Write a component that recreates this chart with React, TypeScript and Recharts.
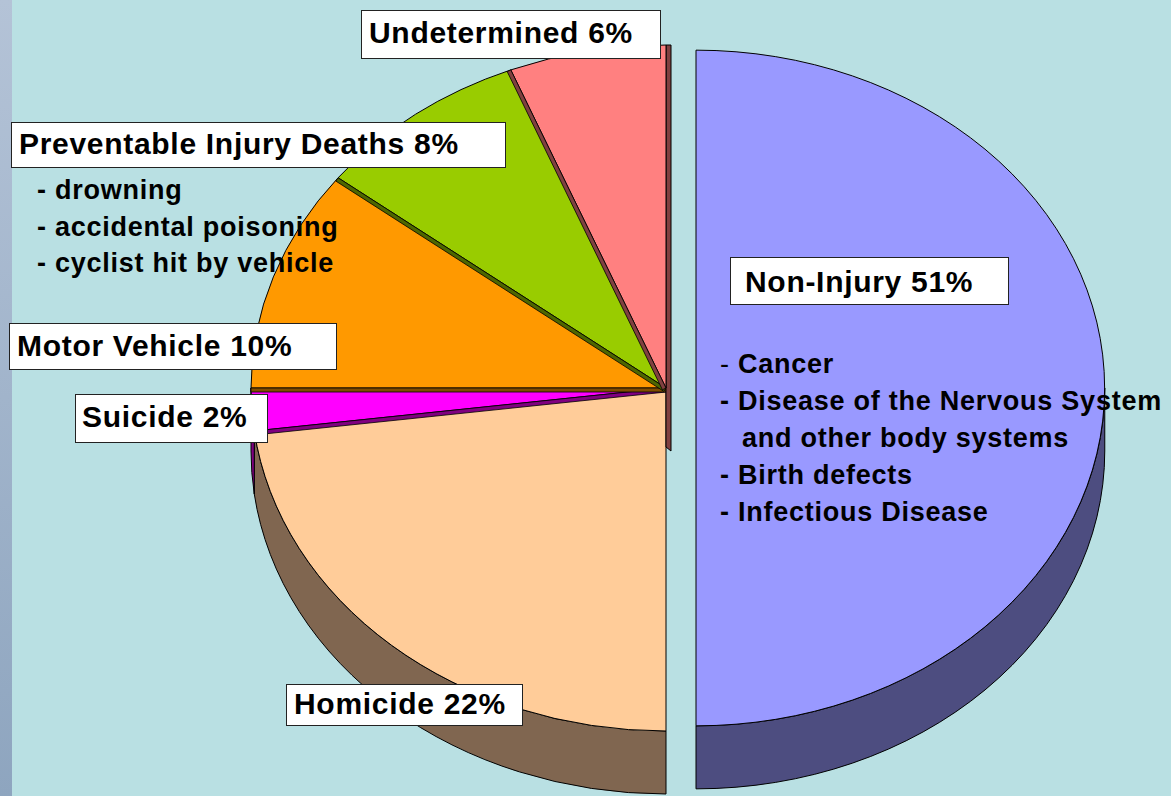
import { PieChart, Pie } from 'recharts'

const CATEGORIES = ['Non-Injury', 'Homicide', 'Suicide', 'Motor Vehicle', 'Preventable Injury Deaths', 'Undetermined']
// shares as they appear on the drawn pie (slice angles)
const SHARES = [50, 23, 2, 10.5, 8.4, 6.1]
// percentages printed on the labels
const LABEL_PCT = [51, 22, 2, 10, 8, 6]
const EXPLODE = [30, 0, 0, 0, 0, 0]
const NON_INJURY_CAUSES = ['Cancer', 'Disease of the Nervous System', 'and other body systems', 'Birth defects', 'Infectious Disease']
const PREVENTABLE_CAUSES = ['drowning', 'accidental poisoning', 'cyclist hit by vehicle']

const TOP_COLORS = ['#9999ff', '#ffcc99', '#ff00ff', '#ff9900', '#99cc00', '#ff8080']
const SIDE_COLORS = ['#4d4d80', '#806650', '#800080', '#804c00', '#4d6600', '#804040']

const W = 1171
const H = 796
const CX = 666
const CY = 388
const RX = 415
const RY = 343
const K = RY / RX
const DEPTH = 63
const PULLED_SCALE = 0.985 // pulled-out slice sits a bit further back
const RAD = Math.PI / 180
const FONT = '"Liberation Sans", Arial, sans-serif'

const rows = CATEGORIES.map((name, i) => ({ name, value: SHARES[i] }))

// label boxes, page coords
const BOXES = [
  { left: 730, top: 257, width: 279, height: 48, textX: 745, baseline: 292 },
  { left: 286, top: 684, width: 237, height: 42, textX: 294, baseline: 714 },
  { left: 75, top: 394, width: 193, height: 49, textX: 82, baseline: 427 },
  { left: 9, top: 323, width: 328, height: 47, textX: 17, baseline: 356 },
  { left: 11, top: 122, width: 495, height: 46, textX: 19, baseline: 154 },
  { left: 361, top: 10, width: 300, height: 49, textX: 369, baseline: 43 },
]

function ell(cx: number, cy: number, r: number, deg: number) {
  return { x: cx + r * Math.cos(deg * RAD), y: cy - r * K * Math.sin(deg * RAD) }
}

function Slice3D(props: any) {
  const { cx, cy, outerRadius, startAngle, endAngle, index } = props
  const mid = (startAngle + endAngle) / 2
  const off = EXPLODE[index] ?? 0
  const r = off > 0 ? outerRadius * PULLED_SCALE : outerRadius
  const ox = cx + off * Math.cos(mid * RAD)
  const oy = cy - off * K * Math.sin(mid * RAD)
  const rx = r
  const ry = r * K
  const p0 = ell(ox, oy, r, startAngle)
  const p1 = ell(ox, oy, r, endAngle)
  const large = Math.abs(startAngle - endAngle) > 180 ? 1 : 0
  const top = `M${ox},${oy} L${p0.x},${p0.y} A${rx},${ry} 0 ${large} 1 ${p1.x},${p1.y} Z`

  // curved side wall, only on the front half
  const hi = Math.min(startAngle, 0)
  const lo = Math.max(endAngle, -180)
  let wall = null
  if (hi - lo > 0.01) {
    const a = ell(ox, oy, r, hi)
    const b = ell(ox, oy, r, lo)
    const d = `M${a.x},${a.y} A${rx},${ry} 0 0 1 ${b.x},${b.y} L${b.x},${b.y + DEPTH} A${rx},${ry} 0 0 0 ${a.x},${a.y + DEPTH} Z`
    wall = <path d={d} fill={SIDE_COLORS[index]} stroke="#000" strokeWidth={1} />
  }

  // radial face on the start edge, seen as a thin strip
  let strip = null
  if (Math.cos(startAngle * RAD) < -0.05) {
    const ex = p0.x - ox
    const ey = p0.y - oy
    const len = Math.hypot(ex, ey)
    let nx = -ey / len
    let ny = ex / len
    if (ny < 0) { nx = -nx; ny = -ny }
    const w = 4
    const pts = [[ox, oy], [p0.x, p0.y], [p0.x + nx * w, p0.y + ny * w], [ox + nx * w, oy + ny * w]]
    strip = <polygon points={pts.map((p) => p.join(',')).join(' ')} fill={SIDE_COLORS[index]} stroke="#000" strokeWidth={0.8} />
  }

  // face left open by the exploded neighbour
  let face = null
  const next = (index + 1) % SHARES.length
  if (EXPLODE[next] > 0 && Math.sin(endAngle * RAD) > 0.5) {
    const pts = [[p1.x, p1.y], [p1.x + 5, p1.y], [ox + 5, oy + DEPTH], [ox, oy + DEPTH - 4]]
    face = <polygon points={pts.map((p) => p.join(',')).join(' ')} fill={SIDE_COLORS[index]} stroke="#000" strokeWidth={1} />
  }

  return (
    <g>
      {wall}
      {face}
      <path d={top} fill={TOP_COLORS[index]} stroke="#000" strokeWidth={1} />
      {strip}
    </g>
  )
}

function Box({ i, text }: { i: number; text: string }) {
  const b = BOXES[i]
  return (
    <>
      <div style={{
        position: 'absolute', left: b.left, top: b.top, width: b.width, height: b.height,
        background: '#fff', border: '1.5px solid #222', boxSizing: 'border-box',
      }} />
      <div style={{
        position: 'absolute', left: b.textX, top: b.baseline - 25.4, fontSize: 30, lineHeight: '30px',
        fontWeight: 700, letterSpacing: 0.7, whiteSpace: 'nowrap', color: '#000',
      }}>{text}</div>
    </>
  )
}

function Line({ x, baseline, children }: { x: number; baseline: number; children: React.ReactNode }) {
  return (
    <div style={{
      position: 'absolute', left: x, top: baseline - 22.9, fontSize: 27, lineHeight: '27px',
      fontWeight: 700, letterSpacing: 0.75, whiteSpace: 'nowrap', color: '#000',
    }}>{children}</div>
  )
}

export default function App() {
  return (
    <div style={{
      position: 'fixed', left: 0, top: 0, width: W, height: H, overflow: 'hidden',
      background: '#b9e0e3', fontFamily: FONT,
    }}>
      <div style={{
        position: 'absolute', left: 0, top: 0, width: 12, height: H,
        background: 'linear-gradient(#b4c3d7, #8ea5bf)',
      }} />
      <div style={{ position: 'absolute', left: 0, top: 0 }}>
        <PieChart width={W} height={H} margin={{ top: 0, right: 0, bottom: 0, left: 0 }}>
          <Pie
            data={rows}
            dataKey="value"
            nameKey="name"
            cx={CX}
            cy={CY}
            outerRadius={RX}
            startAngle={90}
            endAngle={-270}
            fill="none"
            stroke="none"
            label={Slice3D}
            labelLine={false}
            isAnimationActive={false}
          />
        </PieChart>
      </div>

      {CATEGORIES.map((c, i) => (
        <Box key={c} i={i} text={`${c} ${LABEL_PCT[i]}%`} />
      ))}

      {PREVENTABLE_CAUSES.map((t, i) => (
        <Line key={t} x={37} baseline={200 + i * 36.5}>- {t}</Line>
      ))}

      {NON_INJURY_CAUSES.map((t, i) => (
        <Line key={t} x={i === 2 ? 742 : 720} baseline={373.5 + i * 37}>
          {i === 2 ? t : i === 0 ? <><span style={{ fontWeight: 400 }}>-</span> {t}</> : `- ${t}`}
        </Line>
      ))}
    </div>
  )
}
